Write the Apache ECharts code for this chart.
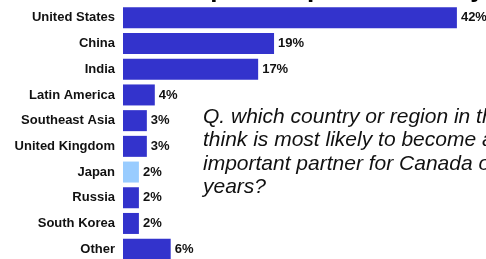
<!DOCTYPE html>
<html><head><meta charset="utf-8">
<script src="https://cdn.jsdelivr.net/npm/echarts@6/dist/echarts.min.js"></script>
<style>html,body{margin:0;padding:0;background:#fff}#c{width:486px;height:259px}</style>
</head><body><div id="c"></div>
<script>
var categories = ['United States','China','India','Latin America','Southeast Asia','United Kingdom','Japan','Russia','South Korea','Other'];
var values = [42,19,17,4,3,3,2,2,2,6];
var highlight = ['Japan'];
var titleText = "Most important partner in 10 years";
var questionText = "Q. which country or region in the world do you\nthink is most likely to become a more\nimportant partner for Canada over the next 10\nyears?";

var chart = echarts.init(document.getElementById('c'), null, {renderer:'canvas'});
chart.setOption({
  animation: false,
  title: {text: titleText, left: 107, top: -28, textStyle: {fontFamily: 'Liberation Sans, Arial', fontWeight: 'bold', fontSize: 26, color: '#000'}},
  grid: {left: 123, top: 5, width: 397.5, height: 257, outerBoundsMode: 'none', containLabel: false},
  xAxis: {type: 'value', min: 0, max: 50, show: false},
  yAxis: {type: 'category', data: categories, inverse: true,
    axisLine: {show: false}, axisTick: {show: false}, splitLine: {show: false},
    axisLabel: {margin: 8, color: '#111', fontFamily: 'Liberation Sans, Arial', fontWeight: 'bold', fontSize: 13}},
  series: [{
    type: 'bar', barWidth: 21,
    data: values.map(function(v, i){
      return {value: v, itemStyle: {color: highlight.indexOf(categories[i]) >= 0 ? '#99ccff' : '#3333cc'}};
    }),
    label: {show: true, position: 'right', distance: 4, formatter: '{c}%', color: '#111',
      fontFamily: 'Liberation Sans, Arial', fontWeight: 'bold', fontSize: 13}
  }],
  graphic: [{type: 'text', left: 203, top: 105, style: {text: questionText, fill: '#111',
    font: 'italic 21px "Liberation Sans", Arial', lineHeight: 23.5}}]
});
</script></body></html>
